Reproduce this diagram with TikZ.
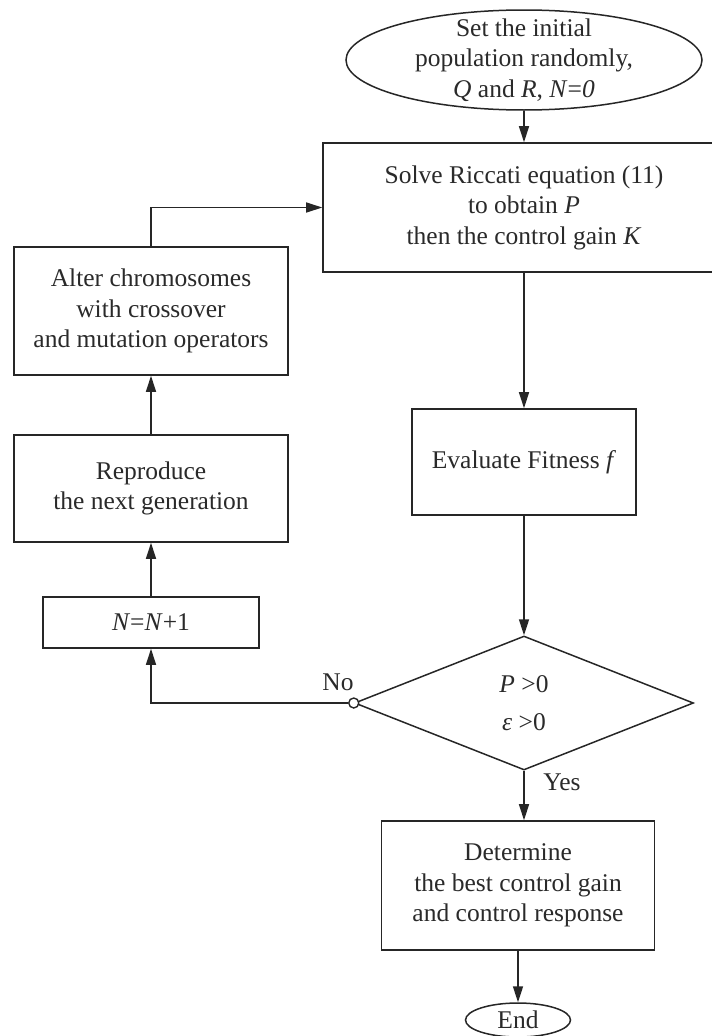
\documentclass[tikz,border=0pt]{standalone}
\usepackage{fontspec}
\setmainfont{Liberation Serif}
\usetikzlibrary{shapes.geometric,arrows.meta}
\definecolor{ln}{HTML}{262626}
\definecolor{txt}{HTML}{2A2A2A}
\begin{document}
\begin{tikzpicture}[x=1pt,y=-1pt,
  every node/.style={text=txt, font=\fontsize{25.5}{30.5}\selectfont},
  box/.style={draw=ln, line width=1.6pt, rectangle, inner sep=0pt, align=center},
  arr/.style={draw=ln, line width=1.6pt, -{Triangle[length=16pt,width=10pt]}},
  oval/.style={draw=ln, line width=1.5pt, ellipse, inner sep=0pt}]
\useasboundingbox (0,0) rectangle (712,1036);
\clip (0,0) rectangle (712,1036);

\node[oval, minimum width=356pt, minimum height=100pt,
  label={[align=center]center:Set the initial\\population randomly,\\\textit{Q} and \textit{R}, \textit{N}=\textit{0}}] (start) at (524,60) {};
\node[box, minimum width=402pt, minimum height=129pt] (solve) at (524,207.5)
  {Solve Riccati equation (11)\\to obtain \textit{P}\\then the control gain \textit{K}};
\node[box, minimum width=224pt, minimum height=106pt] (eval) at (524,462) {Evaluate Fitness \textit{f}};
\node[draw=ln, line width=1.5pt, diamond, aspect=2.52, minimum width=339pt, minimum height=134pt,
  inner sep=0pt, align=center] (dec) at (524,703) {\textit{P} >0\\[8pt]\textit{ε} >0};
\node[box, minimum width=273pt, minimum height=129pt] (det) at (518,885.5)
  {Determine\\the best control gain\\and control response};
\node[oval, minimum width=105pt, minimum height=34pt] (end) at (518,1020) {End};
\node[box, minimum width=216pt, minimum height=51pt] (nn) at (151,622.5) {\textit{N}=\textit{N}+1};
\node[box, minimum width=274pt, minimum height=107pt] (rep) at (151,488.5) {Reproduce\\the next generation};
\node[box, minimum width=274pt, minimum height=128pt] (alt) at (151,311)
  {Alter chromosomes\\with crossover\\and mutation operators};
\node[circle, draw=ln, line width=1.4pt, fill=white, minimum size=10pt, inner sep=0pt] (no) at (dec.west) {};
\node (nolab) at (338,682) {No};
\node (yeslab) at (562,782) {Yes};

\draw[arr] (start.south) -- (solve.north);
\draw[arr] (solve.south) -- (eval.north);
\draw[arr] (eval.south) -- (dec.north);
\draw[arr] (dec.south) -- (dec.south |- det.north);
\draw[arr] (det.south) -- (end.north);
\draw[arr] (no.west) -| (nn.south);
\draw[arr] (nn.north) -- (rep.south);
\draw[arr] (rep.north) -- (alt.south);
\draw[arr] (alt.north) |- (solve.west);
\end{tikzpicture}
\end{document}
